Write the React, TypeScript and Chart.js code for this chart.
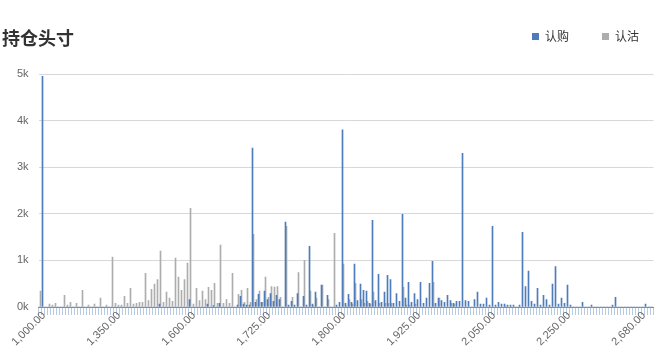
import React, { useEffect, useRef } from 'react';
import { Chart, registerables } from 'chart.js';

Chart.register(...registerables);

const TITLE = '持仓头寸';
const CALL_NAME = '认购';
const PUT_NAME = '认沽';
const CALL_COLOR = '#4e7cba';
const PUT_COLOR = '#adadad';

const STRIKES = [
  1000, 1025, 1050, 1075, 1100, 1125, 1150, 1175, 1200, 1210,
  1220, 1225, 1230, 1240, 1250, 1260, 1270, 1275, 1280, 1290,
  1300, 1310, 1320, 1325, 1340, 1350, 1360, 1370, 1380, 1390,
  1400, 1410, 1420, 1430, 1440, 1450, 1460, 1470, 1480, 1490,
  1500, 1510, 1520, 1530, 1540, 1550, 1560, 1570, 1580, 1590,
  1600, 1605, 1610, 1615, 1620, 1625, 1630, 1635, 1640, 1645,
  1650, 1655, 1660, 1665, 1670, 1675, 1680, 1685, 1690, 1695,
  1700, 1705, 1710, 1715, 1720, 1725, 1727.5, 1730, 1732.5, 1735,
  1737.5, 1740, 1742.5, 1745, 1747.5, 1750, 1752.5, 1755, 1757.5, 1760,
  1762.5, 1765, 1767.5, 1770, 1775, 1780, 1785, 1790, 1795, 1797.5,
  1800, 1805, 1810, 1815, 1820, 1825, 1830, 1835, 1840, 1845,
  1850, 1855, 1860, 1865, 1870, 1875, 1880, 1885, 1890, 1895,
  1900, 1905, 1910, 1915, 1920, 1925, 1930, 1935, 1940, 1945,
  1950, 1955, 1960, 1965, 1970, 1975, 1980, 1985, 1990, 1995,
  2000, 2005, 2010, 2015, 2020, 2025, 2030, 2035, 2040, 2045,
  2050, 2055, 2060, 2065, 2070, 2075, 2080, 2085, 2090, 2095,
  2100, 2110, 2120, 2130, 2140, 2150, 2160, 2170, 2180, 2190,
  2200, 2210, 2220, 2230, 2240, 2250, 2275, 2300, 2325, 2350,
  2375, 2400, 2425, 2450, 2475, 2500, 2520, 2540, 2550, 2560,
  2575, 2580, 2600, 2620, 2625, 2640, 2650, 2660, 2670, 2675,
  2680, 2700, 2725, 2750, 2800,
];

const CALL_OI = [
  0, 4950, 0, 0, 0, 0, 0, 0, 0, 0,
  0, 0, 0, 0, 0, 0, 0, 0, 0, 0,
  0, 0, 0, 0, 0, 0, 0, 0, 0, 0,
  0, 0, 0, 0, 0, 0, 0, 0, 0, 0,
  60, 0, 0, 0, 0, 0, 0, 0, 0, 0,
  160, 0, 0, 0, 0, 0, 60, 0, 30, 0,
  80, 0, 0, 0, 0, 0, 40, 230, 60, 40,
  40, 3410, 100, 270, 100, 340, 160, 290, 120, 250,
  160, 0, 1820, 40, 120, 40, 290, 0, 230, 40,
  1300, 60, 320, 0, 470, 0, 250, 0, 0, 40,
  100, 3800, 80, 270, 100, 920, 140, 490, 360, 340,
  80, 1860, 140, 700, 100, 320, 680, 590, 80, 290,
  120, 1990, 190, 530, 100, 290, 160, 530, 80, 190,
  510, 980, 80, 190, 140, 100, 250, 140, 80, 120,
  120, 3300, 140, 120, 0, 160, 320, 60, 60, 190,
  40, 1730, 40, 100, 60, 60, 40, 40, 40, 0,
  40, 1600, 440, 770, 120, 60, 400, 40, 250, 160,
  40, 490, 870, 60, 190, 80, 470, 40, 0, 0,
  0, 100, 0, 0, 40, 0, 0, 0, 0, 0,
  0, 40, 210, 0, 0, 0, 0, 0, 0, 0,
  0, 0, 60, 0, 0,
];

const PUT_OI = [
  340, 0, 0, 60, 40, 80, 0, 0, 250, 40,
  100, 0, 80, 0, 360, 0, 40, 0, 60, 0,
  190, 0, 40, 0, 1070, 80, 40, 40, 230, 80,
  400, 60, 80, 100, 100, 720, 140, 380, 490, 590,
  1200, 100, 320, 190, 120, 1050, 640, 360, 590, 940,
  2120, 60, 400, 140, 340, 160, 420, 360, 510, 80,
  1330, 80, 160, 80, 720, 0, 270, 360, 100, 400,
  100, 1560, 160, 340, 100, 640, 210, 440, 430, 440,
  210, 0, 1730, 0, 210, 0, 740, 0, 1000, 0,
  340, 20, 190, 0, 470, 0, 160, 0, 1580, 0,
  0, 920, 20, 160, 60, 510, 0, 160, 80, 120,
  60, 320, 0, 80, 0, 80, 80, 80, 0, 0,
  0, 420, 40, 40, 0, 60, 0, 0, 0, 0,
  0, 530, 0, 190, 0, 0, 0, 80, 60, 0,
  0, 0, 0, 0, 0, 0, 0, 0, 0, 0,
  0, 0, 0, 0, 0, 20, 0, 0, 0, 0,
  0, 0, 0, 0, 0, 0, 0, 0, 0, 0,
  0, 0, 0, 0, 0, 0, 0, 0, 0, 0,
  0, 0, 0, 0, 0, 0, 0, 0, 0, 0,
  0, 0, 0, 0, 0, 0, 0, 0, 0, 0,
  0, 0, 0, 0, 0,
];

const Y_MAX = 5000;
const Y_STEP = 1000;
const LABEL_EVERY = 25;

const fmt = (n: number) =>
  new Intl.NumberFormat('en-US', { minimumFractionDigits: 2, maximumFractionDigits: 2 }).format(n);

const LABELS = STRIKES.map(fmt);

export default function App() {
  const ref = useRef<HTMLCanvasElement>(null);

  useEffect(() => {
    if (!ref.current) return;
    Chart.defaults.font.family = '"Liberation Sans", Arial, "Noto Sans CJK SC", sans-serif';
    const chart = new Chart(ref.current, {
      type: 'bar',
      data: {
        labels: LABELS,
        datasets: [
          { label: CALL_NAME, data: CALL_OI, backgroundColor: CALL_COLOR, borderWidth: 0, barThickness: 1 },
          { label: PUT_NAME, data: PUT_OI, backgroundColor: PUT_COLOR, borderWidth: 0, barThickness: 1 },
        ],
      },
      options: {
        responsive: false,
        animation: false,
        layout: { padding: { top: 74, right: 5.5, bottom: 0, left: 0 } },
        plugins: {
          legend: { display: false },
          title: { display: false },
          tooltip: { enabled: false },
        },
        scales: {
          x: {
            afterFit: (s: any) => {
              s.height = 53;
              s.paddingLeft = 0;
              s.paddingRight = 0;
            },
            grid: {
              display: true,
              drawOnChartArea: false,
              drawTicks: true,
              tickLength: 8,
              color: '#b8cbe2',
              offset: true,
            },
            border: { display: true, color: '#6d8fc2', width: 1 },
            ticks: {
              autoSkip: false,
              minRotation: 45,
              maxRotation: 45,
              padding: -6,
              labelOffset: 4,
              color: '#666666',
              font: { size: 11 },
              callback: (_v: any, i: number) => (i % LABEL_EVERY === 0 ? LABELS[i] : ''),
            },
          },
          y: {
            min: 0,
            max: Y_MAX,
            afterFit: (s: any) => {
              s.width = 38.5;
            },
            ticks: {
              stepSize: Y_STEP,
              padding: 10,
              color: '#666666',
              font: { size: 11 },
              callback: (v: any) => Number(v) / 1000 + 'k',
            },
            grid: {
              drawTicks: false,
              color: (ctx: any) => (ctx.tick && ctx.tick.value === 0 ? 'rgba(0,0,0,0)' : '#d8d8d8'),
            },
            border: { display: false },
          },
        },
      },
    });
    return () => chart.destroy();
  }, []);

  return (
    <div style={{ position: 'absolute', left: 0, top: 0, width: 659, height: 360, background: '#fff' }}>
      <canvas ref={ref} width={659} height={360} style={{ position: 'absolute', left: 0, top: 0 }} />
      <div
        style={{
          position: 'absolute', left: 2, top: 28, fontFamily: '"Noto Sans CJK SC", sans-serif',
          fontWeight: 'bold', fontSize: 18, lineHeight: '18px', color: '#333333',
        }}
      >
        {TITLE}
      </div>
      <div style={{ position: 'absolute', left: 532, top: 33, width: 7, height: 7, background: CALL_COLOR }} />
      <div
        style={{
          position: 'absolute', left: 545, top: 30, fontFamily: '"Noto Sans CJK SC", sans-serif',
          fontSize: 12, lineHeight: '12px', color: '#333333',
        }}
      >
        {CALL_NAME}
      </div>
      <div style={{ position: 'absolute', left: 602, top: 33, width: 7, height: 7, background: PUT_COLOR }} />
      <div
        style={{
          position: 'absolute', left: 615, top: 30, fontFamily: '"Noto Sans CJK SC", sans-serif',
          fontSize: 12, lineHeight: '12px', color: '#333333',
        }}
      >
        {PUT_NAME}
      </div>
    </div>
  );
}
